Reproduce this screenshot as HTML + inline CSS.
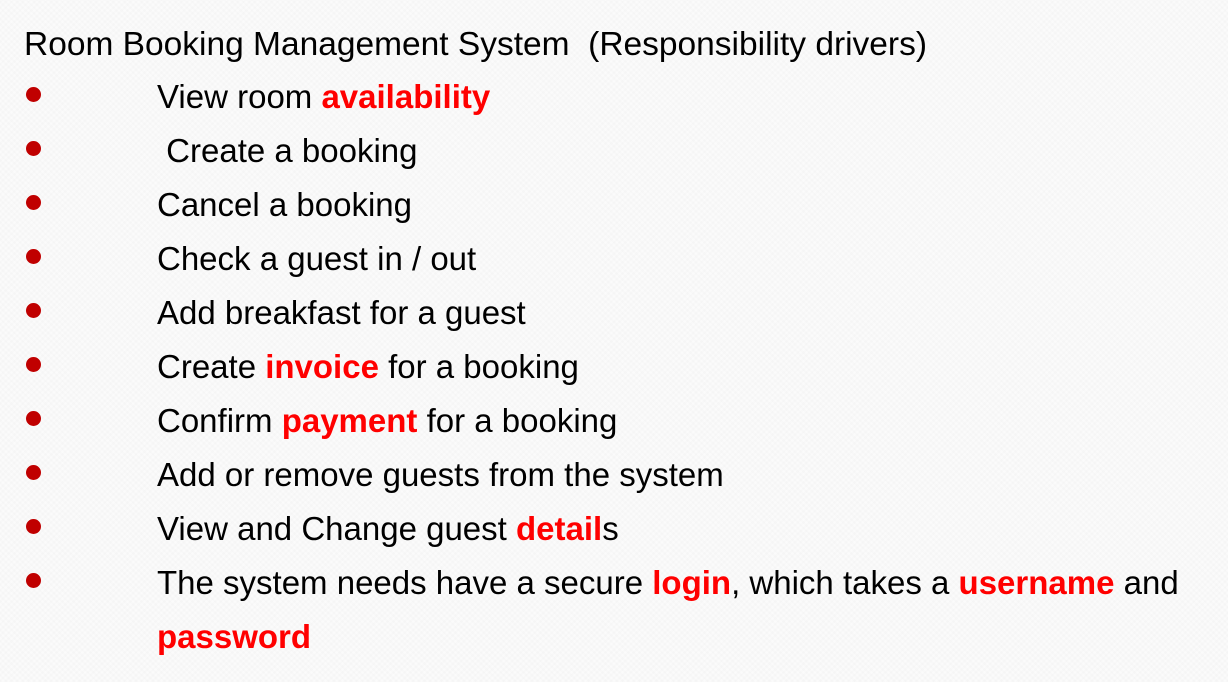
<!DOCTYPE html>
<html><head><meta charset="utf-8"><style>
html,body{margin:0;padding:0}
body{width:1228px;height:682px;overflow:hidden;background:#fbfbfb;font-family:"Liberation Sans",sans-serif;color:#000;position:relative;
background-image:repeating-linear-gradient(45deg,rgba(0,0,0,0.012) 0 2px,transparent 2px 4px),repeating-linear-gradient(-45deg,rgba(0,0,0,0.012) 0 2px,transparent 2px 4px);}
.l{position:absolute;left:0;height:54px;line-height:54px;font-size:33px;white-space:nowrap}
.t{left:24px;font-size:33.5px}
.b{position:absolute;left:26px;width:15px;height:15px;border-radius:50%;background:#c00000;margin-top:-7px}
.x{position:absolute;left:157px}
.r{color:#ff0000;font-weight:bold}
</style></head><body>
<div class="l t" style="top:18px">Room Booking Management System&nbsp; (Responsibility drivers)</div>

<div class="b" style="top:94px"></div>
<div class="l x" style="top:70px">View room <span class="r">availability</span></div>

<div class="b" style="top:148px"></div>
<div class="l x" style="top:124px">&nbsp;Create a booking</div>

<div class="b" style="top:202px"></div>
<div class="l x" style="top:178px">Cancel a booking</div>

<div class="b" style="top:256px"></div>
<div class="l x" style="top:232px">Check a guest in / out</div>

<div class="b" style="top:310px"></div>
<div class="l x" style="top:286px">Add breakfast for a guest</div>

<div class="b" style="top:364px"></div>
<div class="l x" style="top:340px">Create <span class="r">invoice</span> for a booking</div>

<div class="b" style="top:418px"></div>
<div class="l x" style="top:394px">Confirm <span class="r">payment</span> for a booking</div>

<div class="b" style="top:472px"></div>
<div class="l x" style="top:448px">Add or remove guests from the system</div>

<div class="b" style="top:526px"></div>
<div class="l x" style="top:502px">View and Change guest <span class="r">detail</span>s</div>

<div class="b" style="top:580px"></div>
<div class="l x" style="top:556px">The system needs have a secure <span class="r">login</span>, which takes a <span class="r">username</span> and</div>
<div class="l x" style="top:610px"><span class="r">password</span></div>
</body></html>
